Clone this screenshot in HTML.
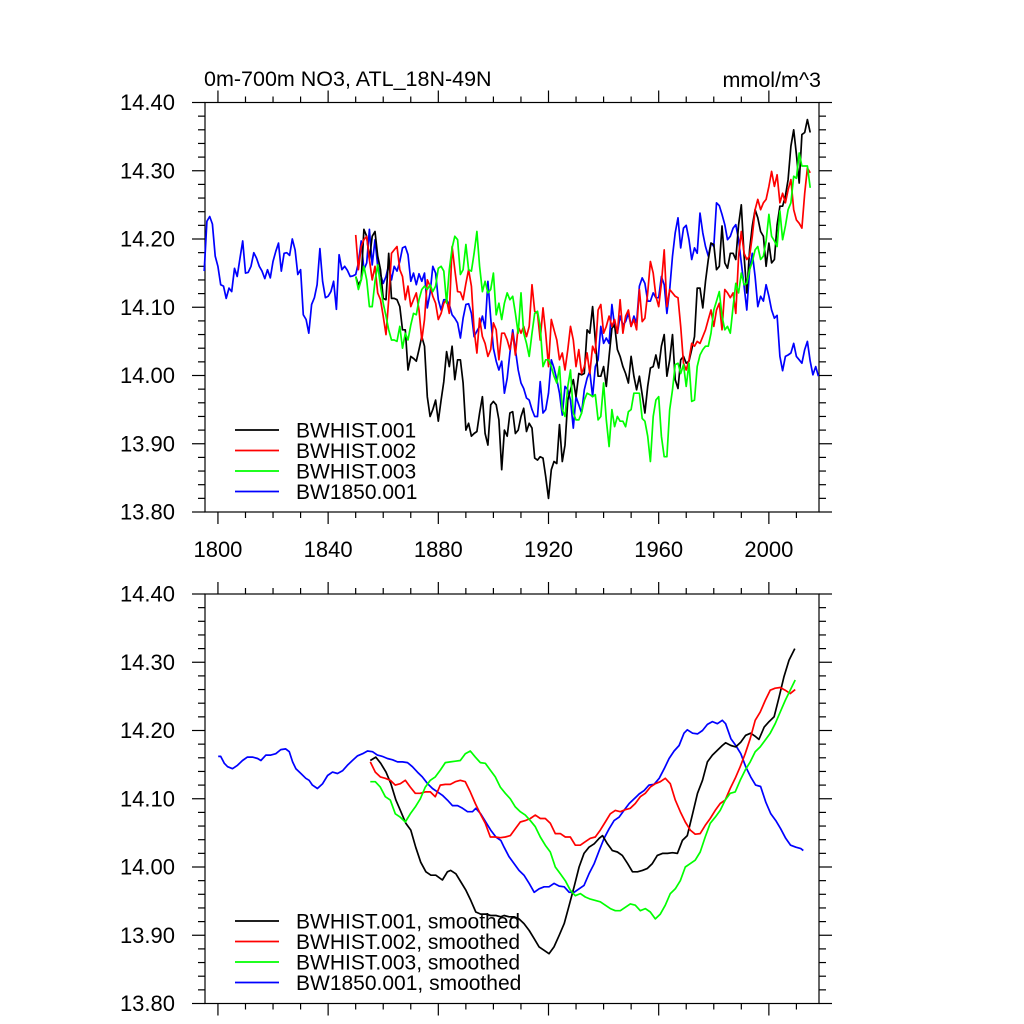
<!DOCTYPE html>
<html><head><meta charset="utf-8"><style>
html,body{margin:0;padding:0;background:#fff;}
svg{display:block;font-family:"Liberation Sans",Arial,sans-serif;}
</style></head><body>
<svg id="chart" width="1024" height="1024" viewBox="0 0 1024 1024" xmlns="http://www.w3.org/2000/svg">
<text x="204" y="86" font-size="21.5" fill="#000">0m-700m NO3, ATL_18N-49N</text>
<text x="821" y="87" font-size="21.5" fill="#000" text-anchor="end">mmol/m^3</text>
</svg>
<script>
// ---- Annual series (top panel) ----
const blueStart = 1795;
const blueVals = [14.153,14.226,14.233,14.222,14.175,14.160,14.133,14.131,14.113,14.128,14.123,14.157,14.145,14.172,14.197,14.150,14.151,14.160,14.180,14.172,14.160,14.153,14.142,14.155,14.143,14.167,14.182,14.194,14.153,14.179,14.180,14.176,14.200,14.184,14.148,14.155,14.089,14.082,14.062,14.104,14.114,14.133,14.186,14.138,14.114,14.116,14.123,14.138,14.097,14.177,14.155,14.160,14.154,14.145,14.146,14.148,14.165,14.197,14.155,14.165,14.214,14.162,14.199,14.160,14.148,14.135,14.145,14.162,14.140,14.160,14.153,14.167,14.187,14.189,14.177,14.138,14.150,14.133,14.149,14.138,14.150,14.099,14.121,14.160,14.150,14.111,14.096,14.111,14.111,14.104,14.089,14.084,14.077,14.055,14.084,14.104,14.105,14.091,14.057,14.065,14.072,14.087,14.069,14.138,14.084,14.040,14.021,14.008,14.021,13.974,13.996,14.033,14.067,
14.038,14.008,13.989,13.981,13.967,13.964,13.950,13.940,13.940,13.991,13.945,13.950,13.974,14.023,14.011,13.994,13.974,13.942,13.984,13.979,13.964,13.923,13.969,13.957,13.945,13.979,13.996,14.006,13.969,14.013,14.023,14.072,14.047,14.055,14.047,14.104,14.072,14.062,14.087,14.074,14.079,14.091,14.072,14.087,14.077,14.131,14.143,14.135,14.109,14.109,14.121,14.114,14.114,14.145,14.133,14.091,14.126,14.175,14.209,14.231,14.187,14.216,14.220,14.199,14.170,14.187,14.179,14.238,14.209,14.189,14.175,14.194,14.189,14.253,14.249,14.236,14.221,14.199,14.204,14.216,14.221,14.199,14.165,14.131,14.096,14.155,14.179,14.145,14.101,14.116,14.109,14.133,14.116,14.096,14.084,14.088,14.028,14.007,14.028,14.030,14.033,14.047,14.028,14.023,14.018,14.038,14.050,14.021,14.001,14.013,13.999];
const histStart = 1850;
const blackVals = [14.145,14.133,14.140,14.214,14.204,14.170,14.204,14.211,14.175,14.155,14.113,14.111,14.179,14.113,14.113,14.111,14.101,14.067,14.067,14.008,14.028,14.025,14.021,14.038,14.057,14.043,13.969,13.940,13.950,13.964,13.933,13.964,13.991,14.035,14.013,14.043,13.994,14.023,14.023,13.989,13.920,13.930,13.911,13.915,13.918,13.945,13.969,13.915,13.898,13.957,13.962,13.957,13.935,13.862,13.920,13.911,13.945,13.947,
13.915,13.920,13.940,13.952,13.918,13.930,13.923,13.879,13.876,13.881,13.879,13.852,13.820,13.862,13.874,13.871,13.928,13.874,13.898,13.964,13.979,13.994,13.969,14.003,14.001,14.003,14.067,14.062,14.101,14.052,13.999,13.999,14.013,13.984,14.028,14.069,14.074,14.038,14.028,14.013,14.003,13.989,14.028,13.999,13.979,13.999,13.972,13.945,13.984,14.011,14.013,14.030,14.011,14.043,14.060,13.999,14.023,14.060,13.994,13.981,14.023,14.028,14.018,14.021,14.038,14.057,14.128,14.128,14.099,14.138,14.170,14.194,14.192,14.155,14.160,14.219,14.165,14.157,14.179,14.179,14.170,14.221,14.250,14.175,14.121,14.184,14.219,14.243,14.231,14.211,14.204,14.160,14.194,14.165,14.170,14.221,14.248,14.248,14.263,14.287,14.336,14.360,14.324,14.282,14.353,14.356,14.375,14.356];
const redVals = [14.206,14.155,14.189,14.199,14.204,14.170,14.140,14.160,14.121,14.111,14.087,14.060,14.111,14.179,14.184,14.189,14.155,14.145,14.111,14.131,14.101,14.111,14.121,14.096,14.052,14.082,14.140,14.131,14.116,14.106,14.082,14.091,14.106,14.111,14.091,14.189,14.155,14.123,14.122,14.111,14.135,14.155,14.131,14.067,14.033,14.084,14.057,14.047,14.028,14.038,14.077,14.067,14.023,14.062,14.062,14.052,14.038,14.062,
14.030,14.072,14.062,14.072,14.057,14.072,14.133,14.094,14.091,14.052,14.099,14.062,14.013,14.082,14.067,14.052,14.023,14.033,14.008,14.038,14.072,14.052,14.013,14.038,14.003,14.013,14.033,14.003,14.043,14.033,14.096,14.104,14.062,14.072,14.087,14.072,14.082,14.062,14.111,14.062,14.087,14.096,14.072,14.082,14.067,14.126,14.079,14.084,14.121,14.167,14.150,14.116,14.101,14.135,14.184,14.101,14.126,14.121,14.116,14.114,14.072,14.018,14.008,14.023,14.047,14.043,14.050,14.047,14.057,14.067,14.082,14.096,14.072,14.096,14.106,14.067,14.126,14.121,14.114,14.121,14.091,14.175,14.211,14.179,14.170,14.175,14.204,14.243,14.258,14.243,14.253,14.258,14.277,14.299,14.277,14.294,14.253,14.267,14.253,14.272,14.287,14.243,14.228,14.223,14.216,14.267,14.304,14.297];
const greenVals = [14.145,14.126,14.140,14.160,14.140,14.101,14.101,14.138,14.162,14.131,14.106,14.087,14.067,14.052,14.052,14.050,14.072,14.040,14.062,14.052,14.074,14.091,14.089,14.111,14.126,14.131,14.126,14.133,14.123,14.131,14.157,14.160,14.153,14.106,14.155,14.187,14.204,14.199,14.148,14.155,14.192,14.155,14.153,14.179,14.211,14.160,14.123,14.138,14.121,14.126,14.150,14.089,14.106,14.082,14.106,14.121,14.111,14.116,
14.091,14.062,14.121,14.062,14.047,14.028,14.062,14.091,14.094,14.072,14.013,14.023,14.023,14.013,13.999,13.989,14.013,13.950,13.940,13.984,14.008,13.945,13.935,13.935,13.945,13.964,13.974,13.972,13.969,13.972,13.935,13.940,13.989,13.935,13.896,13.950,13.925,13.940,13.933,13.933,13.925,13.947,13.950,13.974,13.974,13.974,13.937,13.933,13.911,13.874,13.940,13.964,13.969,13.911,13.881,13.881,13.950,13.979,14.016,14.018,14.003,14.016,13.984,14.018,13.962,13.964,14.013,14.030,14.038,14.043,14.043,14.062,14.096,14.109,14.123,14.087,14.067,14.072,14.062,14.101,14.135,14.121,14.150,14.133,14.135,14.155,14.167,14.184,14.189,14.170,14.175,14.197,14.236,14.204,14.197,14.189,14.241,14.199,14.219,14.243,14.253,14.292,14.289,14.326,14.307,14.307,14.307,14.275];

// ---- Smoothed series (bottom panel) ----
const blueSmYears = [1800.1,1801.0,1802.3,1803.5,1805.3,1807.1,1808.9,1810.7,1812.5,1814.4,1815.6,1817.4,1819.2,1821.0,1822.8,1824.6,1825.9,1827.1,1828.3,1830.1,1831.9,1833.1,1834.3,1836.1,1838.0,1839.8,1841.6,1843.4,1845.2,1847.0,1848.8,1850.7,1852.5,1854.3,1856.1,1857.9,1859.7,1861.5,1863.4,1865.2,1867.0,1868.8,1870.6,1872.4,1874.2,1876.1,1877.9,1879.7,1881.5,1883.3,1885.1,1887.0,1888.8,1890.6,1892.4,1893.6,1895.4,1897.2,1899.0,1900.9,1902.7,
1903.9,1905.7,1907.5,1909.3,1911.1,1913.0,1914.8,1916.6,1918.4,1920.2,1922.0,1923.9,1925.7,1927.5,1929.3,1931.1,1932.9,1934.7,1936.6,1938.4,1940.2,1942.0,1943.8,1945.6,1947.4,1949.3,1951.1,1952.9,1954.7,1956.5,1958.3,1960.2,1962.0,1963.8,1965.6,1967.4,1969.2,1970.4,1972.3,1974.1,1975.9,1977.7,1979.5,1981.3,1983.1,1984.3,1986.2,1988.0,1989.8,1991.6,1993.4,1995.2,1997.0,1998.9,2000.7,2002.5,2004.3,2006.1,2007.9,2009.8,2011.6,2012.5];
const blueSmVals = [14.162,14.162,14.152,14.147,14.144,14.149,14.156,14.161,14.161,14.159,14.156,14.164,14.164,14.166,14.172,14.173,14.169,14.154,14.144,14.137,14.130,14.127,14.120,14.115,14.122,14.134,14.139,14.137,14.141,14.149,14.156,14.163,14.166,14.170,14.169,14.164,14.162,14.159,14.157,14.154,14.154,14.153,14.147,14.139,14.132,14.122,14.115,14.110,14.105,14.098,14.090,14.090,14.086,14.081,14.081,14.086,14.078,14.066,14.054,14.044,14.039,
14.029,14.015,14.005,13.995,13.988,13.976,13.963,13.968,13.971,13.971,13.976,13.972,13.971,13.963,13.963,13.968,13.973,13.990,14.005,14.024,14.042,14.056,14.068,14.073,14.083,14.093,14.100,14.107,14.112,14.120,14.121,14.130,14.144,14.159,14.170,14.178,14.196,14.201,14.196,14.195,14.200,14.209,14.213,14.210,14.215,14.210,14.188,14.178,14.166,14.147,14.132,14.120,14.118,14.095,14.078,14.068,14.056,14.042,14.032,14.029,14.027,14.024];
const blackSmYears = [1855.3,1857.3,1859.1,1861.0,1862.8,1864.6,1866.4,1868.2,1870.0,1871.8,1873.6,1875.5,1877.3,1879.1,1881.5,1883.3,1884.5,1886.4,1888.2,1890.0,1891.8,1893.6,1895.4,1897.2,1899.0,1900.9,1902.7,
1903.9,1905.7,1907.5,1909.3,1911.1,1913.0,1914.8,1916.6,1918.4,1920.2,1922.0,1923.9,1925.7,1927.5,1929.3,1931.1,1932.9,1934.7,1936.6,1938.4,1939.6,1941.4,1943.2,1945.0,1946.8,1948.7,1950.5,1952.3,1954.1,1955.9,1957.7,1959.5,1961.4,1963.2,1965.0,1966.8,1968.6,1970.4,1972.3,1974.1,1975.9,1977.7,1979.5,1981.3,1983.1,1984.3,1986.2,1988.0,1989.8,1991.6,1993.4,1995.2,1996.4,1998.3,2000.1,2001.9,2003.7,2005.5,2007.3,2009.4];
const blackSmVals = [14.156,14.161,14.152,14.139,14.122,14.098,14.081,14.064,14.054,14.029,14.007,13.993,13.988,13.988,13.981,13.993,13.995,13.990,13.978,13.966,13.951,13.934,13.931,13.931,13.929,13.929,13.927,
13.929,13.927,13.927,13.924,13.917,13.907,13.895,13.883,13.878,13.873,13.883,13.900,13.917,13.944,13.971,14.000,14.020,14.029,14.034,14.042,14.046,14.034,14.024,14.022,14.017,14.005,13.993,13.993,13.995,13.998,14.005,14.017,14.020,14.020,14.021,14.020,14.039,14.046,14.078,14.108,14.127,14.154,14.164,14.171,14.178,14.182,14.178,14.176,14.183,14.193,14.196,14.191,14.187,14.205,14.213,14.220,14.249,14.279,14.303,14.320];
const smStart = 1855.3;
const smStep = 1.815;
const redSmVals = [14.154,14.139,14.132,14.130,14.127,14.120,14.122,14.127,14.117,14.108,14.108,14.110,14.110,14.103,14.120,14.121,14.121,14.125,14.127,14.125,14.110,14.093,14.078,14.064,14.044,14.044,14.043,
14.044,14.046,14.056,14.066,14.068,14.071,14.076,14.071,14.071,14.064,14.049,14.049,14.044,14.044,14.032,14.032,14.037,14.042,14.044,14.054,14.066,14.078,14.083,14.081,14.084,14.086,14.093,14.103,14.108,14.117,14.122,14.125,14.130,14.122,14.098,14.081,14.066,14.054,14.048,14.049,14.061,14.071,14.083,14.093,14.098,14.115,14.130,14.147,14.166,14.188,14.215,14.227,14.244,14.259,14.262,14.263,14.259,14.254,14.260];
const greenSmVals = [14.125,14.125,14.117,14.103,14.098,14.078,14.073,14.066,14.078,14.088,14.100,14.117,14.127,14.132,14.142,14.153,14.154,14.155,14.156,14.166,14.170,14.161,14.153,14.152,14.142,14.132,14.117,
14.108,14.100,14.088,14.081,14.076,14.068,14.059,14.044,14.032,14.022,14.000,13.990,13.980,13.966,13.958,13.961,13.956,13.953,13.951,13.949,13.944,13.939,13.936,13.936,13.941,13.946,13.944,13.936,13.939,13.934,13.924,13.931,13.944,13.961,13.968,13.980,14.000,14.005,14.010,14.022,14.044,14.064,14.073,14.083,14.098,14.108,14.110,14.127,14.142,14.154,14.169,14.176,14.186,14.196,14.210,14.227,14.244,14.259,14.274];

const yTickLabels = ["13.80","13.90","14.00","14.10","14.20","14.30","14.40"];
const yTickValues = [13.80,13.90,14.00,14.10,14.20,14.30,14.40];
const xTickLabels = ["1800","1840","1880","1920","1960","2000"];
const xTickValues = [1800,1840,1880,1920,1960,2000];
const legendTop = ["BWHIST.001","BWHIST.002","BWHIST.003","BW1850.001"];
const legendBottom = ["BWHIST.001, smoothed","BWHIST.002, smoothed","BWHIST.003, smoothed","BW1850.001, smoothed"];

const NS = "http://www.w3.org/2000/svg";
const svg = document.getElementById("chart");
const X0 = 205, X1 = 819, XMIN = 1795.3, XMAX = 2018.2;
const YMIN = 13.80, YMAX = 14.40;
const colors = ["#000000","#ff0000","#00ff00","#0000ff"];
function xs(yr){ return X0 + (yr - XMIN) / (XMAX - XMIN) * (X1 - X0); }
function mk(tag, attrs, parent){
  const e = document.createElementNS(NS, tag);
  for (const k in attrs) e.setAttribute(k, attrs[k]);
  (parent || svg).appendChild(e);
  return e;
}

function drawPanel(top, bottom, name, showXLabels){
  const ys = v => bottom - (v - YMIN) / (YMAX - YMIN) * (bottom - top);
  const g = mk("g", {});
  
  
  const axG = mk("g", {stroke:"#000","stroke-width":"1.2",fill:"none"}, g);
  
  
  mk("rect", {x:X0, y:top, width:X1-X0, height:bottom-top}, axG);
  for (let yr = 1800; yr <= 2010; yr += 10){
    const major = (yr - 1800) % 40 === 0;
    const L = major ? 12 : 6;
    const x = xs(yr);
    mk("line", {x1:x, y1:bottom, x2:x, y2:bottom+L}, axG);
    mk("line", {x1:x, y1:top, x2:x, y2:top-L}, axG);
  }
  for (let i = 0; i <= 30; i++){
    const v = YMIN + i*0.02;
    const major = i % 5 === 0;
    const L = major ? 13 : 7;
    const y = ys(v);
    mk("line", {x1:X0, y1:y, x2:X0-L, y2:y}, axG);
    mk("line", {x1:X1, y1:y, x2:X1+L, y2:y}, axG);
  }
  yTickLabels.forEach((lab, i) => {
    const t = mk("text", {x:175, y:ys(yTickValues[i])+7.5, "font-size":"22", "text-anchor":"end", fill:"#000"}, g);
    t.textContent = lab;
    
    
  });
  if (showXLabels){
    xTickLabels.forEach((lab, i) => {
      const t = mk("text", {x:xs(xTickValues[i]), y:bottom+45, "font-size":"22", "text-anchor":"middle", fill:"#000"}, g);
      t.textContent = lab;
      
      
    });
  }
  return {g, ys};
}

function polyline(g, years, vals, ys, color, name){
  const pts = vals.map((v,i) => xs(years[i]).toFixed(1) + "," + ys(v).toFixed(1)).join(" ");
  const p = mk("polyline", {points:pts, fill:"none", stroke:color, "stroke-width":"1.7", "stroke-linejoin":"round"}, g);
  
  
}
function seqYears(start, step, n){ const a=[]; for(let i=0;i<n;i++) a.push(start+i*step); return a; }

function legend(g, labels, y0, name){
  const lg = mk("g", {}, g);
  
  
  labels.forEach((lab, i) => {
    const y = y0 + i*20.5;
    const ln = mk("line", {x1:235, y1:y, x2:279, y2:y, stroke:colors[i], "stroke-width":"1.7"}, lg);
    
    
    const t = mk("text", {x:296, y:y+7.5, "font-size":"21", fill:"#000"}, lg);
    t.textContent = lab;
    
    
  });
}

const P1 = drawPanel(102.5, 512, "top-panel", true);
polyline(P1.g, seqYears(blueStart,1,blueVals.length), blueVals, P1.ys, colors[3], "bw1850-001-line");
polyline(P1.g, seqYears(histStart,1,blackVals.length), blackVals, P1.ys, colors[0], "bwhist-001-line");
polyline(P1.g, seqYears(histStart,1,redVals.length), redVals, P1.ys, colors[1], "bwhist-002-line");
polyline(P1.g, seqYears(histStart,1,greenVals.length), greenVals, P1.ys, colors[2], "bwhist-003-line");
legend(P1.g, legendTop, 430, "top-legend");

const P2 = drawPanel(594, 1003.5, "bottom-panel", false);
polyline(P2.g, blueSmYears, blueSmVals, P2.ys, colors[3], "bw1850-001-smoothed-line");
polyline(P2.g, blackSmYears, blackSmVals, P2.ys, colors[0], "bwhist-001-smoothed-line");
polyline(P2.g, seqYears(smStart,smStep,redSmVals.length), redSmVals, P2.ys, colors[1], "bwhist-002-smoothed-line");
polyline(P2.g, seqYears(smStart,smStep,greenSmVals.length), greenSmVals, P2.ys, colors[2], "bwhist-003-smoothed-line");
legend(P2.g, legendBottom, 921, "bottom-legend");
</script>
</body></html>
